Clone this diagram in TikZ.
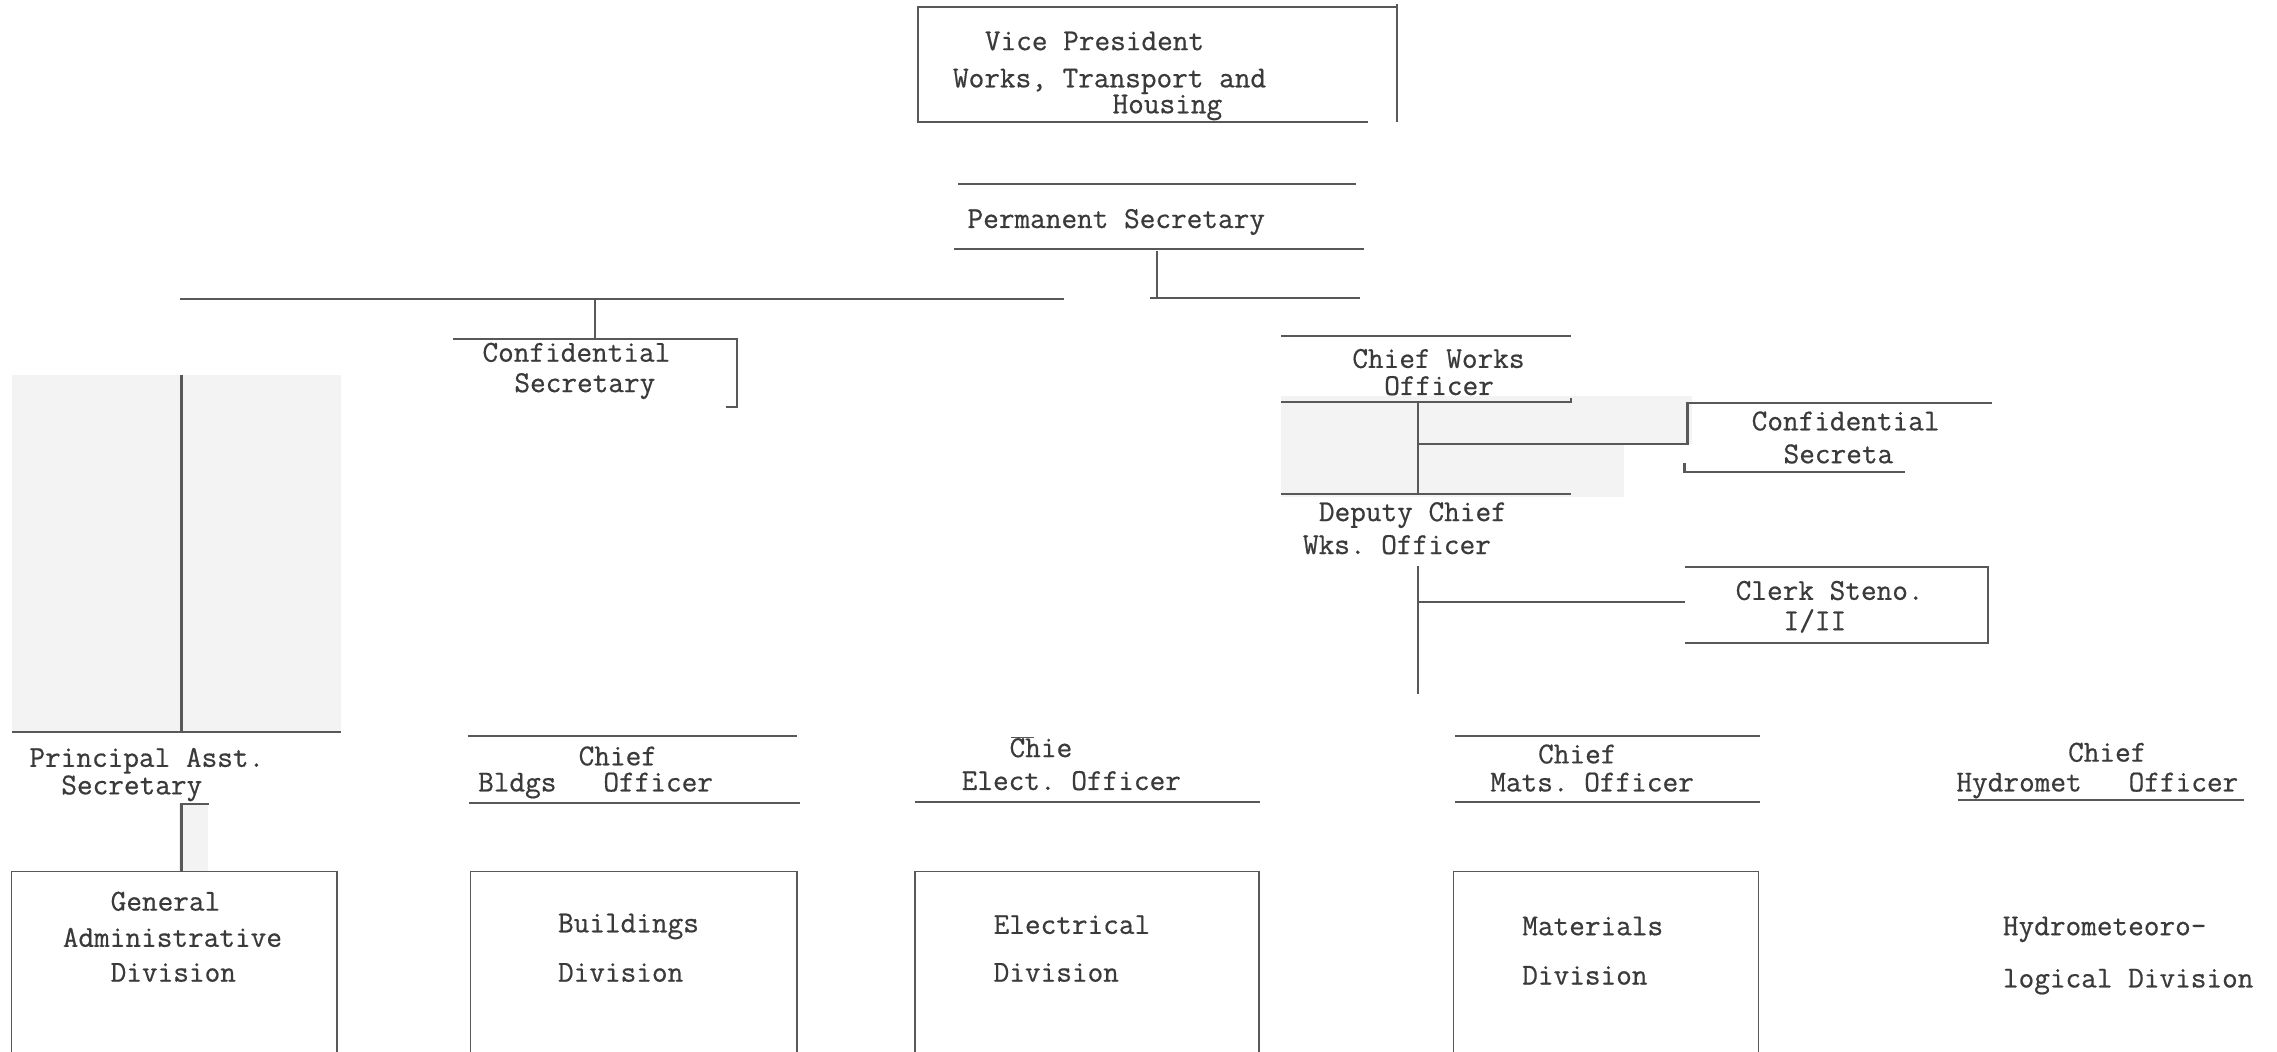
\documentclass[tikz,border=0pt]{standalone}
\usepackage{fontspec}
\usepackage{tikz}
\usepackage{color}

\newfontfamily\typewriter{Latin Modern Mono}[FakeBold=0.6]

\definecolor{ink}{RGB}{58,58,58}
\definecolor{linec}{RGB}{88,88,88}
\definecolor{patch}{RGB}{243,243,243}

\newlength{\cwd}
\setlength{\cwd}{8.24pt}
\newcommand{\ind}[1]{\hspace*{#1\cwd}}
\newcommand{\typed}{\fontsize{15.7}{17}\selectfont\typewriter\frenchspacing}

\tikzset{
  txt/.style={anchor=base west, inner sep=0pt, align=left, text=ink, font=\typed},
  rule/.style={draw=linec, line width=1.1pt},
  boxrule/.style={draw=linec, line width=0.8pt},
  scanpatch/.style={fill=patch, draw=none}
}

\begin{document}
\begin{tikzpicture}[x=0.75pt,y=0.75pt,yscale=-1,xscale=1]
\useasboundingbox (0,0) rectangle (1568,724.4);
\fill[white] (0,0) rectangle (1568,724.4);

%Shape: scan patches
\fill[scanpatch] (8,258) rectangle (234.6,504);
\fill[scanpatch] (123,553.7) rectangle (143,600);
\fill[scanpatch] (882,273) rectangle (1165,306);
\fill[scanpatch] (882,306) rectangle (1118,342);

% Text Node (placed at the baseline of the last line)
\node[txt] (vp) at (656,78) {\ind{2}Vice President\\[2.2pt]Works, Transport and\\[-3.6pt]\ind{10}Housing};
% Text Node
\node[txt] (permsec) at (666,157) {Permanent Secretary};
% Text Node
\node[txt] (confsec) at (332,270) {Confidential\\[-1.3pt]\ind{2}Secretary};
% Text Node
\node[txt] (cwo) at (931,272) {Chief Works\\[-3pt]\ind{2}Officer};
% Text Node
\node[txt] (cwosec) at (1206,319) {Confidential\\\ind{2}Secreta};
% Text Node
\node[txt] (dcwo) at (897,381.5) {\ind{1}Deputy Chief\\Wks. Officer};
% Text Node
\node[txt] (clerk) at (1195,434) {Clerk Steno.\\[-1.3pt]\ind{3}I/II};
% Text Node
\node[txt] (pas) at (20,547) {Principal Asst.\\[-2.8pt]\ind{2}Secretary};
% Text Node
\node[txt] (cbo) at (329,545) {\ind{6.3}Chief\\[-3.5pt]Bldgs~~~Officer};
% Text Node
\node[txt] (ceo) at (662,544) {\ind{3}Chie\\Elect. Officer};
% Text Node
\node[txt] (cmo) at (1026,545) {\ind{3}Chief\\[-2.5pt]Mats. Officer};
% Text Node
\node[txt] (cho) at (1347,545) {\ind{7}Chief\\[-1.6pt]Hydromet~~~Officer};
% Text Node
\node[txt] (gad) at (43,676) {\ind{3}General\\[1.7pt]Administrative\\[1pt]\ind{3}Division};
% Text Node
\node[txt] (bdiv) at (384,676) {Buildings\\[8.5pt]Division};
% Text Node
\node[txt] (ediv) at (684,676) {Electrical\\[7.7pt]Division};
% Text Node
\node[txt] (mdiv) at (1048,678) {Materials\\[8.5pt]Division};
% Text Node
\node[txt] (hdiv) at (1379,680) {Hydrometeoro-\\[10pt]logical Division};

%Shape: Vice President box
\draw[rule] (942,84) -- (632,84) -- (632,5) -- (962,5);
\draw[rule] (962,3) -- (962,84);
%Straight Lines: Permanent Secretary
\draw[rule] (660,126.5) -- (934,126.5);
\draw[rule] (657,171.5) -- (939,171.5);

% connector points
\coordinate (psdrop) at (797,173);
\coordinate (psfoot) at (797,205.5);
\coordinate (psend) at (936.5,205.5);
\coordinate (brL) at (124,206);
\coordinate (brR) at (733,206);
\coordinate (cstop) at (410,206);
\coordinate (csjoin) at (410,233.5);
\coordinate (spine1) at (976.5,277);
\coordinate (spine2) at (976.5,340);
\coordinate (spine3) at (976.5,390);
\coordinate (spine4) at (976.5,478);
\coordinate (secjoin) at (1162,306);
\coordinate (clerkjoin) at (1160,414.6);
\coordinate (pastop) at (125,553.7);
\coordinate (gadtop) at (125,600);

%Straight Lines
\draw[rule] (psdrop) -- (psfoot) -- (psend);
\draw[rule] (psfoot) ++(-5,0) -- (psfoot);
\draw[rule] (brL) -- (brR);
\draw[rule] (cstop) -- (csjoin);
%Straight Lines: Confidential Secretary
\draw[rule] (312,233.5) -- (507.6,233.5) -- (507.6,280.5) -- (500,280.5);

%Straight Lines: left patch
\draw[rule] (125,258) -- (125,504);
\draw[rule] (8,504) -- (234.6,504);
\draw[rule] (124,553.7) -- (144,553.7);
\draw[rule] (pastop) -- (gadtop);

%Straight Lines: Chief Works Officer
\draw[rule] (882,231.6) -- (1082,231.6);
\draw[rule] (882,277) -- (1082,277) -- (1082,274);
\draw[rule] (882,340) -- (1082,340);
\draw[rule] (spine1) -- (spine2);
\draw[rule] (976.5,306) -- (secjoin) -- (1162,277);
\draw[rule] (1162,277.5) -- (1372,277.5);
\draw[rule] (1160,319) -- (1160,325) -- (1312,325);
\draw[rule] (spine3) -- (spine4);
\draw[rule] (976.5,414.6) -- (clerkjoin);
%Shape: Clerk Steno box
\draw[rule] (1160,390.4) -- (1369,390.4) -- (1369,443) -- (1160,443);

%Straight Lines: chief officers
\draw[rule] (322,507) -- (549,507);
\draw[rule] (323,553) -- (551,553);
\draw[boxrule] (696,508) -- (712,508);
\draw[rule] (630,552) -- (868,552);
\draw[rule] (1002,507) -- (1212,507);
\draw[rule] (1002,552) -- (1212,552);
\draw[rule] (1348,551) -- (1545,551);

%Shape: division boxes
\draw[boxrule] (8,724.4) -- (8,600) -- (232,600) -- (232,724.4);
\draw[boxrule] (324,724.4) -- (324,600) -- (549,600) -- (549,724.4);
\draw[boxrule] (630,724.4) -- (630,600) -- (867,600) -- (867,724.4);
\draw[boxrule] (1001,724.4) -- (1001,600) -- (1211,600) -- (1211,724.4);

\end{tikzpicture}
\end{document}
